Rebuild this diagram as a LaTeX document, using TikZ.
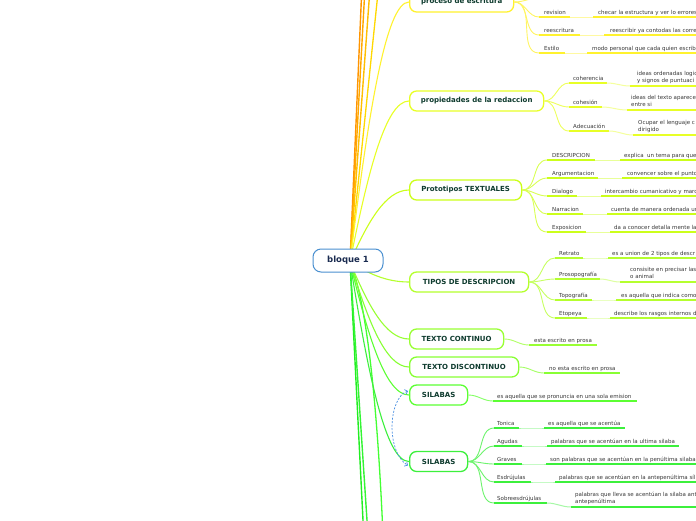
\documentclass[tikz,border=0pt]{standalone}
\usepackage{fontspec}
\setmainfont{DejaVu Sans}
\usetikzlibrary{arrows.meta,calc}
\pgfdeclarelayer{background}
\pgfsetlayers{background,main}
\definecolor{cA}{HTML}{FFF22E}
\definecolor{cB}{HTML}{E8FF26}
\definecolor{cC}{HTML}{CCFF1A}
\definecolor{cD}{HTML}{B5FF2E}
\definecolor{cE}{HTML}{99FF33}
\definecolor{cF}{HTML}{88FF33}
\definecolor{cG}{HTML}{5CFF33}
\definecolor{cH}{HTML}{3CF03C}
\definecolor{oA}{HTML}{FF9500}
\definecolor{oB}{HTML}{FFA800}
\definecolor{oC}{HTML}{FFBE00}
\definecolor{oD}{HTML}{FFD800}
\definecolor{gA}{HTML}{22EE22}
\definecolor{gB}{HTML}{33F533}
\definecolor{gC}{HTML}{44FF33}
\definecolor{titlec}{HTML}{0E3B2E}
\definecolor{txtc}{HTML}{383838}
\definecolor{navyc}{HTML}{1A2B50}
\definecolor{bluec}{HTML}{4A90D0}
\definecolor{arrowc}{HTML}{4A90E2}
\tikzset{
  mainbox/.style={draw=#1, line width=1.3pt, rounded corners=7pt, fill=white,
    minimum height=20pt, inner sep=0pt, anchor=west,
    font=\fontsize{7}{8}\selectfont\bfseries, text=titlec},
  lbl/.style={inner sep=0pt, anchor=base west, font=\fontsize{5.5}{7}\selectfont, text=txtc},
  lbltwo/.style={inner sep=0pt, anchor=south west, align=left, text depth=1.3pt,
    font=\fontsize{5.5}{7}\selectfont, text=txtc},
  ul/.style={draw=#1, line width=1.6pt},
  palec/.style={draw=#1!45, line width=1pt},
  conn/.style={draw=#1!75, line width=0.9pt},
  trunk/.style={draw=#1, line width=1.1pt},
}
\newcommand\hubline[2]{\draw[trunk=#2] let \p1=(hub), \p2=(#1.west) in (\p1) .. controls ({\x1+0.3*(\x2-\x1)},{\y1+0.55*(\y2-\y1)}) and ({\x1+0.6*(\x2-\x1)},\y2) .. (\p2);}
\newcommand\leaf[7]{\coordinate (#1a) at (#3,#5); \coordinate (#1b) at (#4,#5);
  \draw[ul=#2] (#1a) -- (#1b); \node[lbl] (#1) at (#6,{#5-3}) {#7};}
\newcommand\leaftwo[7]{\coordinate (#1a) at (#3,#5); \coordinate (#1b) at (#4,#5);
  \draw[ul=#2] (#1a) -- (#1b); \node[lbltwo] (#1) at (#6,{#5-1.7}) {#7};}
\begin{document}
\begin{tikzpicture}[x=1pt,y=-1pt]
\useasboundingbox (0,0) rectangle (696,520);
\begin{pgfonlayer}{background}
\fill[white] (0,0) rectangle (696,520);
\end{pgfonlayer}
\clip (0,0) rectangle (696,520);
\coordinate (hub) at (350,262);
% main nodes
\node[mainbox=cA, minimum width=104pt] (proc) at (409,2) {proceso de escritura};
\node[mainbox=cB, minimum width=134pt] (prop) at (409,101) {propiedades de la redaccion};
\node[mainbox=cC, minimum width=112pt] (proto) at (409,190) {Prototipos TEXTUALES};
\node[mainbox=cD, minimum width=119pt] (tipos) at (409,282) {TIPOS DE DESCRIPCION};
\node[mainbox=cE, minimum width=94pt] (tcon) at (409,339) {TEXTO CONTINUO};
\node[mainbox=cF, minimum width=109pt] (tdis) at (409,367) {TEXTO DISCONTINUO};
\node[mainbox=cG, minimum width=58pt] (sila) at (409,395) {SILABAS};
\node[mainbox=cH, minimum width=58pt] (silb) at (409,461.5) {SILABAS};
% central node
\node[draw=bluec, line width=1pt, rounded corners=8pt, fill=white, minimum width=70pt,
  minimum height=23pt, inner sep=0pt, font=\fontsize{8.5}{10}\selectfont\bfseries,
  text=navyc] (b1) at (348,260.5) {bloque 1};
% trunk lines (behind the nodes)
\coordinate (oa) at (362.2,-20); \coordinate (ob) at (365.4,-20);
\coordinate (oc) at (370.6,-20); \coordinate (od) at (379.3,-20);
\coordinate (ga) at (364,540); \coordinate (gb) at (368.3,540); \coordinate (gc) at (384,560);
\begin{pgfonlayer}{background}
\clip (0,0) rectangle (696,520);
\draw[trunk=oA, line width=1.4pt] (hub) -- (oa);
\draw[trunk=oB, line width=1.4pt] (hub) -- (ob);
\draw[trunk=oC, line width=1.4pt] (hub) -- (oc);
\draw[trunk=oD, line width=1.3pt] (hub) -- (od);
\draw[trunk=gA, line width=1.4pt] (hub) -- (ga);
\draw[trunk=gB, line width=1.4pt] (hub) -- (gb);
\draw[trunk=gC, line width=1.3pt] (hub) .. controls (366,300) and (378,400) .. (gc);
\hubline{proc}{cA}
\hubline{prop}{cB}
\hubline{proto}{cC}
\hubline{tipos}{cD}
\hubline{tcon}{cE}
\hubline{tdis}{cF}
\hubline{sila}{cG}
\hubline{silb}{cH}
\end{pgfonlayer}
% ---- proceso de escritura
\coordinate (p0a) at (539,-2); \coordinate (p0b) at (562,-2);
\coordinate (p0ra) at (590,-2); \coordinate (p0rb) at (700,-2);
\draw[ul=cA] (p0a) -- (p0b); \draw[palec=cA] (p0b) -- (p0ra); \draw[ul=cA] (p0ra) -- (p0rb);
\draw[conn=cA] (proc.east) to[out=0,in=180] (p0a);
\leaf{pr1}{cA}{539}{570}{17}{544}{revision}
\leaf{pr1r}{cA}{593}{700}{17}{598}{checar la estructura y ver lo errores}
\leaf{pr2}{cA}{539}{580}{35}{544}{reescritura}
\leaf{pr2r}{cA}{604}{700}{35}{610}{reescribir ya contodas las corre}
\leaf{pr3}{cA}{539}{565}{53}{544}{Estilo}
\leaf{pr3r}{cA}{587}{700}{53}{592}{modo personal que cada quien escribe}
\foreach \n in {pr1,pr2,pr3}{\draw[conn=cA] (proc.east) to[out=0,in=180] (\n a);
  \draw[palec=cA] (\n b) -- (\n ra);}
% ---- propiedades
\leaf{q1}{cB}{569}{607}{83}{573}{coherencia}
\leaftwo{q1r}{cB}{630}{700}{86}{637}{ideas ordenadas logic\\y signos de puntuaci}
\leaf{q2}{cB}{569}{602}{107}{573}{cohesión}
\leaftwo{q2r}{cB}{627}{700}{110}{631}{ideas del texto aparece\\entre si}
\leaf{q3}{cB}{569}{609}{131}{573}{Adecuación}
\leaftwo{q3r}{cB}{633}{700}{135}{638}{Ocupar el lenguaje c\\dirigido}
\foreach \n in {q1,q2,q3}{\draw[conn=cB] (prop.east) to[out=0,in=180] (\n a);
  \draw[palec=cB] (\n b) to[out=0,in=180] (\n ra);}
% ---- prototipos
\leaf{t1}{cC}{547}{595}{160}{552}{DESCRIPCION}
\leaf{t1r}{cC}{620}{700}{160}{624}{explica\ \ un tema para que}
\leaf{t2}{cC}{547}{598}{178}{552}{Argumentacion}
\leaf{t2r}{cC}{622}{700}{178}{627}{convencer sobre el punto}
\leaf{t3}{cC}{547}{577}{196}{552}{Dialogo}
\leaf{t3r}{cC}{601}{700}{196}{605}{intercambio cumanicativo y marc}
\leaf{t4}{cC}{547}{583}{214}{552}{Narracion}
\leaf{t4r}{cC}{607}{700}{214}{611}{cuenta de manera ordenada un}
\leaf{t5}{cC}{547}{586}{232}{552}{Exposicion}
\leaf{t5r}{cC}{610}{700}{232}{614}{da a conocer detalla mente la}
\foreach \n in {t1,t2,t3,t4,t5}{\draw[conn=cC] (proto.east) to[out=0,in=180] (\n a);
  \draw[palec=cC] (\n b) -- (\n ra);}
% ---- tipos de descripcion
\leaf{d1}{cD}{555}{583}{258}{559}{Retrato}
\leaf{d1r}{cD}{608}{700}{258}{612}{es a union de 2 tipos de descr}
\leaf{d2}{cD}{555}{600}{279}{559}{Prosopografía}
\leaftwo{d2r}{cD}{620}{700}{282}{630}{consisite en precisar las\\o animal}
\leaf{d3}{cD}{555}{592}{300}{559}{Topografía}
\leaf{d3r}{cD}{616}{700}{300}{621}{es aquella que indica como}
\leaf{d4}{cD}{555}{587}{318}{559}{Etopeya}
\leaf{d4r}{cD}{610}{700}{318}{614}{describe los rasgos internos d}
\foreach \n in {d1,d2,d3,d4}{\draw[conn=cD] (tipos.east) to[out=0,in=180] (\n a);
  \draw[palec=cD] (\n b) to[out=0,in=180] (\n ra);}
% ---- textos y silabas
\leaf{u1}{cE}{529}{597}{345}{534}{esta escrito en prosa}
\draw[conn=cE] (tcon.east) to[out=0,in=180] (u1a);
\leaf{u2}{cF}{544}{620}{373}{549}{no esta escrito en prosa}
\draw[conn=cF] (tdis.east) to[out=0,in=180] (u2a);
\leaf{u3}{cG}{493}{637}{401}{497}{es aquella que se pronuncia en una sola emision}
\draw[conn=cG] (sila.east) to[out=0,in=180] (u3a);
% ---- silabas 2
\leaf{s1}{cH}{494}{519}{428}{497}{Tonica}
\leaf{s1r}{cH}{544}{625}{428}{548}{es aquella que se acentúa}
\leaf{s2}{cH}{494}{522}{446}{497}{Agudas}
\leaf{s2r}{cH}{547}{679}{446}{551}{palabras que se acentúan en la ultima silaba}
\leaf{s3}{cH}{494}{522}{464}{497}{Graves}
\leaf{s3r}{cH}{546}{700}{464}{550}{son palabras que se acentúan en la penúltima silaba}
\leaf{s4}{cH}{494}{531}{482}{497}{Esdrújulas}
\leaf{s4r}{cH}{555}{700}{482}{559}{palabras que se acentúan en la antepenúltima síl}
\leaf{s5}{cH}{494}{547}{503}{497}{Sobreesdrújulas}
\leaftwo{s5r}{cH}{571}{700}{507}{575}{palabras que lleva se acentúan la silaba ant\\antepenúltima}
\foreach \n in {s1,s2,s3,s4,s5}{\draw[conn=cH] (silb.east) to[out=0,in=180] (\n a);
  \draw[palec=cH] (\n b) to[out=0,in=180] (\n ra);}
% ---- dashed relation
\draw[arrowc, line width=0.7pt, dash pattern=on 2pt off 1.5pt,
  {Straight Barb[length=2.5pt,width=5pt]}-{Straight Barb[length=2.5pt,width=5pt]}]
  ([shift={(-1pt,4pt)}]sila.west) .. controls (388,398) and (386,452) .. ([shift={(-1pt,-4pt)}]silb.west);
\end{tikzpicture}
\end{document}
